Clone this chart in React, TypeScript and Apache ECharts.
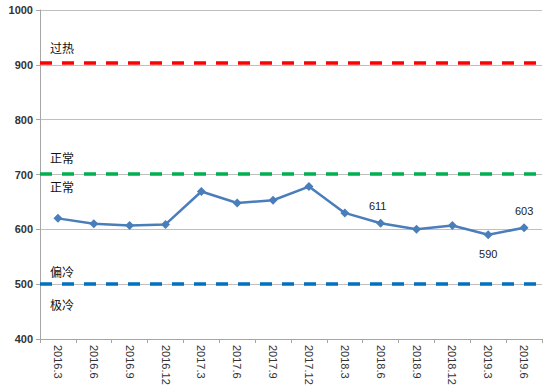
import React, { useEffect, useRef } from "react";
import * as echarts from "echarts";

const categories = ["2016.3", "2016.6", "2016.9", "2016.12", "2017.3", "2017.6", "2017.9", "2017.12", "2018.3", "2018.6", "2018.9", "2018.12", "2019.3", "2019.6"];
const values = [620, 610, 607, 609, 669, 648, 653, 678, 630, 611, 600, 607, 590, 603];
const labeledIndex = [9, 12, 13];
const labelBelow = [12];
const thresholds = [
  { value: 904, color: "#FF0000" },
  { value: 702, color: "#00B050" },
  { value: 500, color: "#0070C0" },
];
const zoneLabels = [
  { text: "过热", value: 930 },
  { text: "正常", value: 730 },
  { text: "正常", value: 677 },
  { text: "偏冷", value: 522 },
  { text: "极冷", value: 462 },
];

export default function App() {
  const ref = useRef<HTMLDivElement>(null);
  useEffect(() => {
    if (!ref.current) return;
    const chart = echarts.init(ref.current, undefined, { renderer: "svg" });
    const gridTop = 10;
    const gridH = 329;
    const yOf = (v: number) => gridTop + ((1000 - v) / 600) * gridH;
    chart.setOption({
      animation: false,
      grid: { left: 40, right: 16, top: gridTop, bottom: 50 },
      xAxis: {
        type: "category",
        data: categories,
        boundaryGap: true,
        axisLine: { lineStyle: { color: "#a6a6a6", width: 1 } },
        axisTick: { show: true, length: 4, lineStyle: { color: "#a6a6a6" } },
        axisLabel: {
          rotate: -90,
          color: "#333",
          fontSize: 11,
          fontFamily: "Liberation Sans, Arial, sans-serif",
          margin: 6,
          interval: 0,
        },
      },
      yAxis: {
        type: "value",
        min: 400,
        max: 1000,
        interval: 100,
        axisLine: { show: true, lineStyle: { color: "#a6a6a6" } },
        axisTick: { show: true, length: 4, lineStyle: { color: "#a6a6a6" } },
        splitLine: { lineStyle: { color: "#bfbfbf", width: 1 } },
        axisLabel: {
          color: "#333",
          fontSize: 11,
          fontWeight: "bold",
          fontFamily: "Liberation Sans, Arial, sans-serif",
          margin: 7,
          formatter: (v: number) => String(v),
        },
      },
      graphic: zoneLabels.map((z) => ({
        type: "text",
        left: 50,
        top: yOf(z.value) - 7,
        style: {
          text: z.text,
          fontSize: 12,
          fill: "#111",
          fontFamily: "Noto Sans CJK SC, sans-serif",
        },
      })),
      series: [
        {
          type: "line",
          data: values.map((v, i) => ({
            value: v,
            label: {
              show: labeledIndex.includes(i),
              position: labelBelow.includes(i) ? "bottom" : "top",
              offset: i === 9 ? [-3, -2] : [0, labelBelow.includes(i) ? 4 : -2],
            },
          })),
          symbol: "diamond",
          symbolSize: 9,
          lineStyle: { color: "#4A7EBB", width: 2.5 },
          itemStyle: { color: "#4A7EBB" },
          label: {
            color: "#222",
            fontSize: 11,
            fontFamily: "Liberation Sans, Arial, sans-serif",
          },
          markLine: {
            silent: true,
            symbol: "none",
            label: { show: false },
            data: thresholds.map((t) => ({
              yAxis: t.value,
              lineStyle: { color: t.color, width: 3.5, type: [12, 10] },
            })),
          },
          z: 5,
        },
      ],
    });
    return () => chart.dispose();
  }, []);
  return (
    <div
      ref={ref}
      style={{ position: "fixed", left: 0, top: 0, width: 558, height: 389, background: "#fff" }}
    />
  );
}
